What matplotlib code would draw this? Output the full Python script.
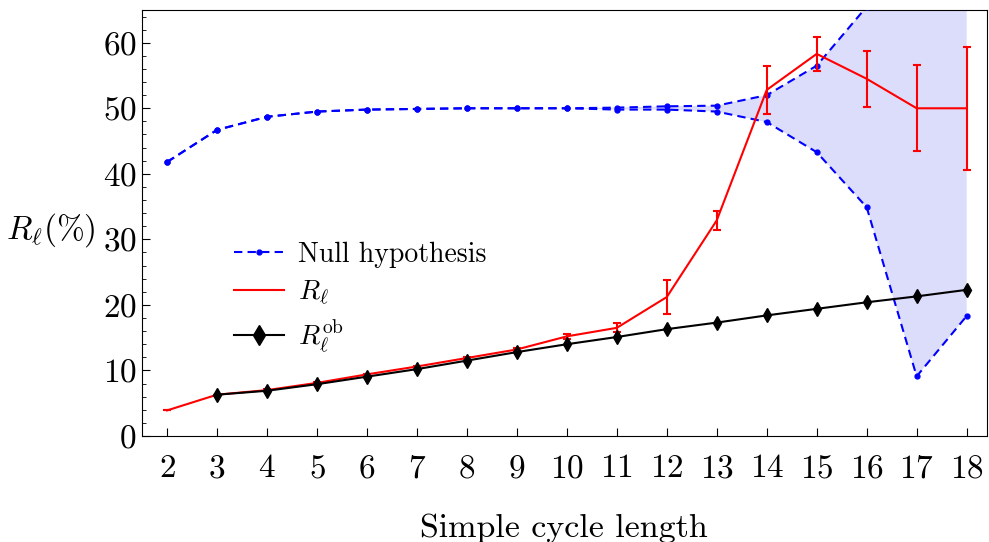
import numpy as np
import matplotlib
matplotlib.use("Agg")
import matplotlib.pyplot as plt
from matplotlib.ticker import MultipleLocator

# data
cycle_len = [2, 3, 4, 5, 6, 7, 8, 9, 10, 11, 12, 13, 14, 15, 16, 17, 18]
null_upper = [41.8, 46.7, 48.7, 49.5, 49.8, 49.9, 50.0, 50.0, 50.0, 50.1, 50.3, 50.4, 52.0, 56.5, 65.5, 80.0, 92.0]
null_lower = [41.8, 46.7, 48.7, 49.5, 49.8, 49.9, 50.0, 50.0, 50.0, 49.8, 49.8, 49.5, 47.9, 43.3, 34.9, 9.1, 18.3]
r_ell = [3.9, 6.3, 7.0, 8.1, 9.4, 10.6, 11.9, 13.2, 15.2, 16.5, 21.2, 32.9, 52.8, 58.3, 54.5, 50.0, 50.0]
r_err = [0.0, 0.0, 0.1, 0.1, 0.1, 0.1, 0.15, 0.2, 0.4, 0.7, 2.65, 1.45, 3.65, 2.6, 4.3, 6.55, 9.35]
ob_len = [3, 4, 5, 6, 7, 8, 9, 10, 11, 12, 13, 14, 15, 16, 17, 18]
r_ob = [6.3, 6.9, 7.9, 9.05, 10.2, 11.5, 12.8, 14.0, 15.1, 16.3, 17.3, 18.4, 19.4, 20.4, 21.3, 22.3]

plt.rcParams['font.family'] = 'serif'
plt.rcParams['font.serif'] = ['cmr10', 'DejaVu Serif']
plt.rcParams['mathtext.fontset'] = 'cm'
plt.rcParams['axes.formatter.use_mathtext'] = True

fig = plt.figure(figsize=(9.89, 5.42), dpi=100)
ax = fig.add_axes([0.1436, 0.1956, 0.854, 0.786])

# shaded band between null hypothesis bounds
ax.fill_between(cycle_len, null_lower, null_upper, color='#dcdcfb', lw=0, zorder=1)
ax.plot(cycle_len, null_upper, color='blue', ls='--', marker='o', ms=3.5, lw=1.5,
        dashes=(4, 2.5), zorder=3, label='Null hypothesis')
ax.plot(cycle_len, null_lower, color='blue', ls='--', marker='o', ms=3.5, lw=1.5,
        dashes=(4, 2.5), zorder=3)

# observed ratio with error bars
ax.errorbar(cycle_len, r_ell, yerr=r_err, color='red', lw=1.5, elinewidth=1.5,
            capsize=3, capthick=1.5, zorder=4)
ax.plot([], [], color='red', lw=1.5, label=r'$R_\ell$')

# ob ratio
ax.plot(ob_len, r_ob, color='black', lw=1.5, marker='d', ms=7, zorder=5,
        label=r'$R_\ell^{\mathrm{ob}}$')

ax.set_xlim(1.5, 18.4)
ax.set_ylim(0, 65)
ax.set_xticks(cycle_len)
ax.yaxis.set_major_locator(MultipleLocator(10))
ax.yaxis.set_minor_locator(MultipleLocator(2))
ax.tick_params(axis='both', which='major', direction='in', length=6, labelsize=24)
ax.tick_params(axis='y', which='minor', direction='in', length=3)
ax.tick_params(top=False, right=False)
ax.tick_params(axis='x', pad=13)
ax.tick_params(axis='y', pad=4)

ax.set_xlabel('Simple cycle length', fontsize=24.5, labelpad=22)
ax.set_ylabel(r'$R_\ell(\%)$', fontsize=24, rotation=0, ha='center', va='center')
ax.yaxis.set_label_coords(-0.108, 0.484)

leg = ax.legend(loc='upper left', bbox_to_anchor=(0.096, 0.482), frameon=False, fontsize=20,
                handlelength=1.8, labelspacing=0.38, borderaxespad=0, handletextpad=0.5)
for h in leg.legend_handles:
    if h.get_marker() == 'd':
        h.set_markersize(10)

fig.savefig('out.png', dpi=100)
